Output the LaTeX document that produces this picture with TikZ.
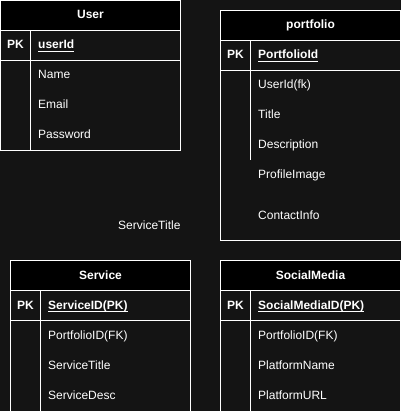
\documentclass[tikz,border=0pt]{standalone}
\usepackage{fontspec}
\setmainfont{Liberation Sans}
\usetikzlibrary{calc}
\definecolor{bg}{HTML}{141414}
\begin{document}
\begin{tikzpicture}[x=1pt,y=-1pt,
  frame/.style={draw=white,line width=1pt},
  hdr/.style={draw=white,line width=1pt,fill=black},
  field/.style={anchor=base west,inner sep=0pt,text=white,font=\fontsize{12}{14}\selectfont},
  keyfield/.style={anchor=base west,inner sep=0pt,text=white,font=\fontsize{12}{14}\selectfont\bfseries},
  title/.style={anchor=base,inner sep=0pt,text=white,font=\fontsize{12}{14}\selectfont\bfseries},
  uline/.style={draw=white,line width=1pt}
]
\fill[bg] (0,0) rectangle (401,411);
\useasboundingbox (0,0) rectangle (401,411);
\clip (0,0) rectangle (401,411);

% ---------- User ----------
\draw[hdr] (0.5,0.5) rectangle (180.5,30.5);
\draw[frame] (0.5,30.5) rectangle (180.5,150.5);
\draw[frame] (0.5,60.5) -- (180.5,60.5);
\draw[frame] (30.5,30.5) -- (30.5,150.5);
\node[title] (userT) at (90.5,19) {User};
\node[keyfield] (userPK) at (7,49) {PK};
\node[keyfield] (userId) at (38,49) {userId};
\draw[uline] ($(userId.base west)+(0,2.5)$) -- ($(userId.base east)+(0,2.5)$);
\node[field] (userName) at (38,79) {Name};
\node[field] (userEmail) at (38,109) {Email};
\node[field] (userPwd) at (38,139) {Password};

% ---------- portfolio ----------
\draw[hdr] (220.5,10.5) rectangle (400.5,40.5);
\draw[frame] (220.5,40.5) rectangle (400.5,240.5);
\draw[frame] (220.5,70.5) -- (400.5,70.5);
\draw[frame] (250.5,40.5) -- (250.5,160.5);
\node[title] (pfT) at (310.5,29) {portfolio};
\node[keyfield] (pfPK) at (227,59) {PK};
\node[keyfield] (pfId) at (258,59) {PortfolioId};
\draw[uline] ($(pfId.base west)+(0,2.5)$) -- ($(pfId.base east)+(0,2.5)$);
\node[field] (pfUser) at (258,89) {UserId(fk)};
\node[field] (pfTitle) at (258,119) {Title};
\node[field] (pfDesc) at (258,149) {Description};
\node[field] (pfImg) at (258,179) {ProfileImage};
\node[field] (pfContact) at (258,219) {ContactInfo};

% ---------- floating label ----------
\node[field] (floatST) at (118,229) {ServiceTitle};

% ---------- Service ----------
\draw[hdr] (10.5,260.5) rectangle (190.5,290.5);
\draw[frame] (10.5,290.5) rectangle (190.5,430);
\draw[frame] (10.5,320.5) -- (190.5,320.5);
\draw[frame] (40.5,290.5) -- (40.5,430);
\node[title] (svT) at (100.5,279) {Service};
\node[keyfield] (svPK) at (17,309) {PK};
\node[keyfield] (svId) at (48,309) {ServiceID(PK)};
\draw[uline] ($(svId.base west)+(0,2.5)$) -- ($(svId.base east)+(0,2.5)$);
\node[field] (svPf) at (48,339) {PortfolioID(FK)};
\node[field] (svTitle) at (48,369) {ServiceTitle};
\node[field] (svDesc) at (48,399) {ServiceDesc};

% ---------- SocialMedia ----------
\draw[hdr] (220.5,260.5) rectangle (400.5,290.5);
\draw[frame] (220.5,290.5) rectangle (400.5,430);
\draw[frame] (220.5,320.5) -- (400.5,320.5);
\draw[frame] (250.5,290.5) -- (250.5,430);
\node[title] (smT) at (310.5,279) {SocialMedia};
\node[keyfield] (smPK) at (227,309) {PK};
\node[keyfield] (smId) at (258,309) {SocialMediaID(PK)};
\draw[uline] ($(smId.base west)+(0,2.5)$) -- ($(smId.base east)+(0,2.5)$);
\node[field] (smPf) at (258,339) {PortfolioID(FK)};
\node[field] (smName) at (258,369) {PlatformName};
\node[field] (smURL) at (258,399) {PlatformURL};
\end{tikzpicture}
\end{document}
